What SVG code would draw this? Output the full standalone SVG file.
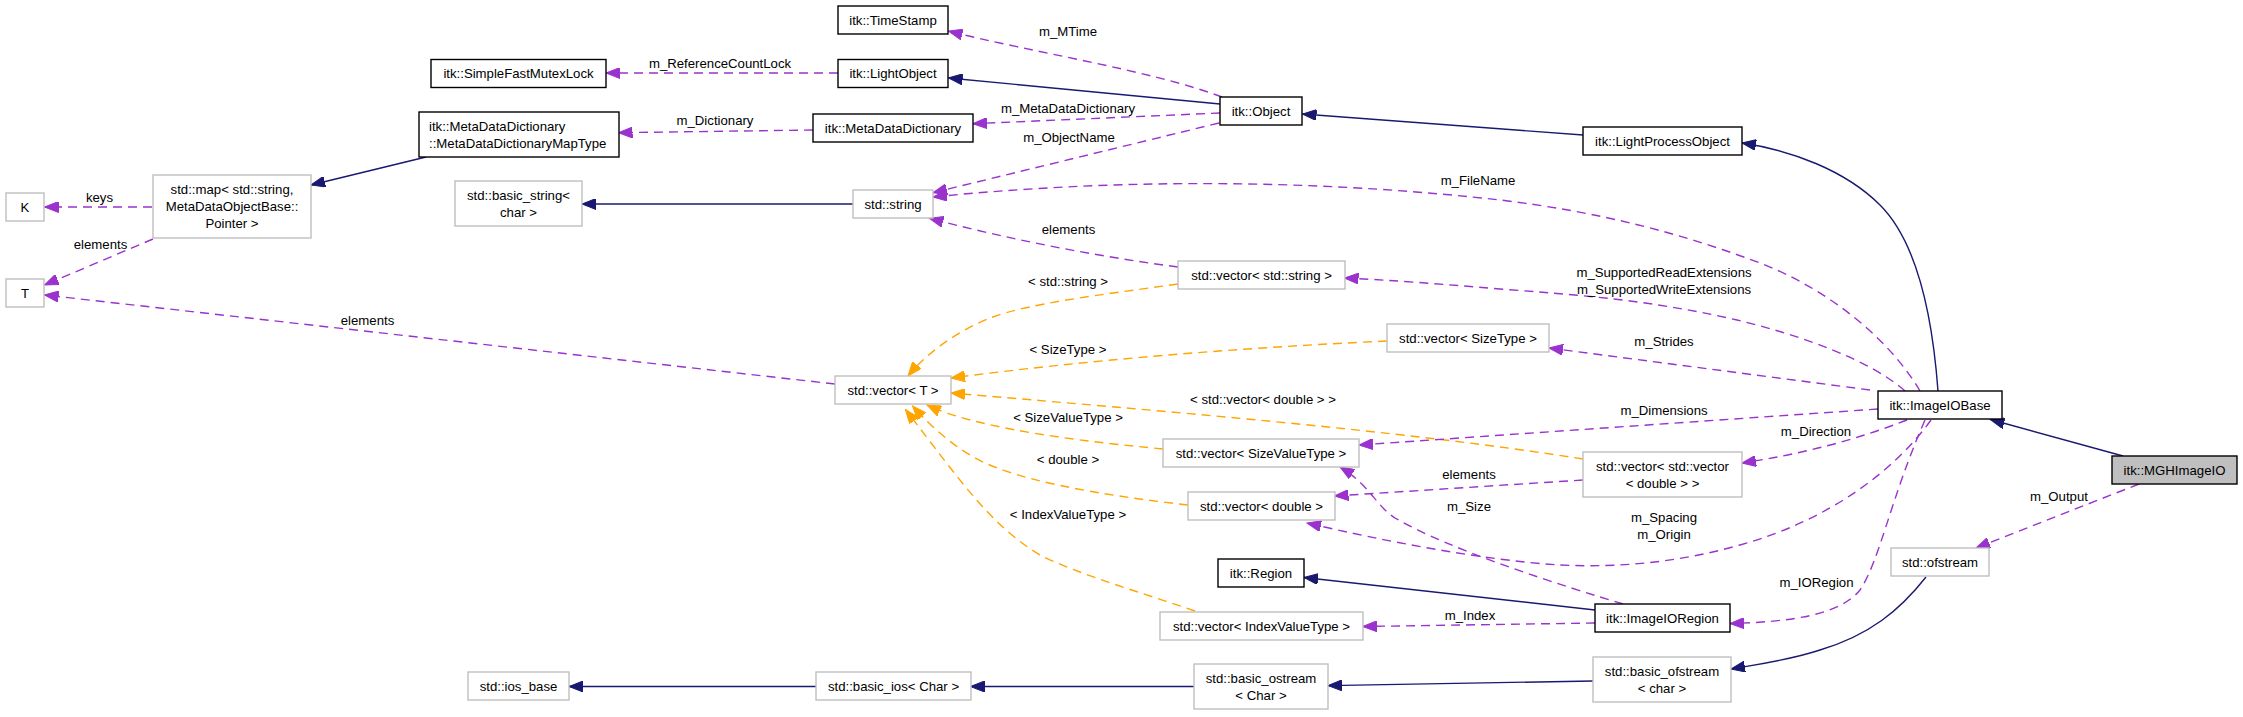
<svg xmlns="http://www.w3.org/2000/svg" width="2243" height="717" viewBox="0 0 2243 717">
<style>
text{font-family:"Liberation Sans",Arial,sans-serif;font-size:13.2px;fill:#000}
.c{text-anchor:middle}
.nb rect{fill:#fff;stroke:#000;stroke-width:1.4}
.ng rect{fill:#fff;stroke:#bfbfbf;stroke-width:1.4}
.nh rect{fill:#bfbfbf;stroke:#000;stroke-width:1.4}
.e{fill:none;stroke-width:1.4}
.inh{stroke:#191970;marker-end:url(#ab)}
.use{stroke:#9a32cd;stroke-dasharray:9,6;marker-end:url(#ap)}
.tpl{stroke:#ffa500;stroke-dasharray:9,6;marker-end:url(#ao)}
</style>
<defs>
<marker id="ab" markerUnits="userSpaceOnUse" markerWidth="15" markerHeight="11" refX="14" refY="5.5" orient="auto"><path d="M0,0 L14,5.5 L0,11 z" fill="#191970" stroke="#191970"/></marker>
<marker id="ap" markerUnits="userSpaceOnUse" markerWidth="15" markerHeight="11" refX="14" refY="5.5" orient="auto"><path d="M0,0 L14,5.5 L0,11 z" fill="#9a32cd" stroke="#9a32cd"/></marker>
<marker id="ao" markerUnits="userSpaceOnUse" markerWidth="15" markerHeight="11" refX="14" refY="5.5" orient="auto"><path d="M0,0 L14,5.5 L0,11 z" fill="#ffa500" stroke="#ffa500"/></marker>
</defs>
<rect width="2243" height="717" fill="#fff"/>
<g id="edges">
<path class="e use" d="M1222,97 C1150,70 1030,52 948.5,31"/>
<path class="e inh" d="M1220,104 L948.5,78"/>
<path class="e use" d="M838,73 L606,73"/>
<path class="e use" d="M1220,113 L973,123.7"/>
<path class="e use" d="M813,130 L618.5,132.7"/>
<path class="e inh" d="M426,157 L311,185"/>
<path class="e use" d="M152,207 L44.5,207"/>
<path class="e use" d="M153,239 L44.5,285"/>
<path class="e use" d="M835,384 L44.5,295"/>
<path class="e use" d="M1219,123 L933,192.7"/>
<path class="e inh" d="M853,204 L582,204"/>
<path class="e use" d="M1920,391 C1890,340 1830,290 1760,263 C1680,233 1600,212 1500,200 C1350,183 1150,175 933,197"/>
<path class="e use" d="M1178,267 Q1050,250 929.4,218.3"/>
<path class="e use" d="M1905,391 C1870,360 1800,335 1737,320 C1650,300 1580,295 1500,289 C1440,284 1390,280 1344.5,278"/>
<path class="e use" d="M1870,390 L1549,348"/>
<path class="e tpl" d="M1178,284 C1100,295 1030,303 990,318 C955,332 925,355 908,376"/>
<path class="e tpl" d="M1387,341 Q1150,352 951,378"/>
<path class="e tpl" d="M1583,459 C1400,430 1150,410 951,393"/>
<path class="e tpl" d="M1163,449 C1090,442 980,430 927,405"/>
<path class="e tpl" d="M1188,505 C1100,495 1010,480 970,455 C945,440 925,420 912.6,406"/>
<path class="e tpl" d="M1195,611 C1140,592 1080,575 1040,555 C990,525 960,480 905.5,409.6"/>
<path class="e use" d="M1878,409 L1359,445"/>
<path class="e use" d="M1907,420 Q1830,450 1742,463"/>
<path class="e use" d="M1583,480 L1334.5,496"/>
<path class="e use" d="M1931,420 C1895,470 1830,520 1740,545 C1680,562 1620,568 1560,565 C1480,560 1380,540 1307,523"/>
<path class="e use" d="M1623,604 C1560,585 1450,550 1395,518 C1375,505 1370,485 1340,467"/>
<path class="e inh" d="M1595,610 L1304,577.5"/>
<path class="e use" d="M1595,623 L1363,626.5"/>
<path class="e use" d="M1925,420 C1890,500 1880,560 1860,590 C1840,615 1790,622 1730,623.5"/>
<path class="e inh" d="M2123,456 L1990.5,419.5"/>
<path class="e use" d="M2139,484 L1976,548"/>
<path class="e inh" d="M1926,577 C1900,610 1870,635 1820,650 C1790,660 1760,664 1731,669"/>
<path class="e inh" d="M1593,681 L1328,685.6"/>
<path class="e inh" d="M1194,686.5 L970.5,686.5"/>
<path class="e inh" d="M816,686.5 L569,686.5"/>
<path class="e inh" d="M1583,135 L1302.5,114"/>
<path class="e inh" d="M1938,391 C1932,310 1915,240 1880,205 C1845,170 1790,150 1742,143"/>
<text class="c" x="1068" y="35.6">m_MTime</text>
<text class="c" x="720" y="67.6">m_ReferenceCountLock</text>
<text class="c" x="1068" y="112.6">m_MetaDataDictionary</text>
<text class="c" x="715" y="124.6">m_Dictionary</text>
<text class="c" x="1069" y="141.6">m_ObjectName</text>
<text class="c" x="1478" y="184.6">m_FileName</text>
<text class="c" x="99.5" y="201.6">keys</text>
<text class="c" x="100.5" y="248.6">elements</text>
<text class="c" x="1068.5" y="233.6">elements</text>
<text class="c" x="1664" y="276.6">m_SupportedReadExtensions</text>
<text class="c" x="1664" y="293.6">m_SupportedWriteExtensions</text>
<text class="c" x="1068" y="285.6">&lt; std::string &gt;</text>
<text class="c" x="367.5" y="324.6">elements</text>
<text class="c" x="1664" y="345.6">m_Strides</text>
<text class="c" x="1068" y="353.6">&lt; SizeType &gt;</text>
<text class="c" x="1263" y="403.6">&lt; std::vector&lt; double &gt; &gt;</text>
<text class="c" x="1664" y="414.6">m_Dimensions</text>
<text class="c" x="1068" y="421.6">&lt; SizeValueType &gt;</text>
<text class="c" x="1816" y="435.6">m_Direction</text>
<text class="c" x="1068" y="463.6">&lt; double &gt;</text>
<text class="c" x="1469" y="478.6">elements</text>
<text class="c" x="2059" y="500.6">m_Output</text>
<text class="c" x="1469" y="511.2">m_Size</text>
<text class="c" x="1068" y="519.2">&lt; IndexValueType &gt;</text>
<text class="c" x="1664" y="521.6">m_Spacing</text>
<text class="c" x="1664" y="538.6">m_Origin</text>
<text class="c" x="1816.5" y="586.6">m_IORegion</text>
<text class="c" x="1470" y="619.6">m_Index</text>
</g>
<g id="n_TimeStamp" class="nb"><rect x="838" y="6" width="110" height="28"/><text class="c" x="893" y="24.6">itk::TimeStamp</text></g>
<g id="n_LightObject" class="nb"><rect x="838" y="59.5" width="110" height="28"/><text class="c" x="893" y="78.1">itk::LightObject</text></g>
<g id="n_SimpleFastMutexLock" class="nb"><rect x="431" y="59.5" width="175" height="28"/><text class="c" x="518.5" y="78.1">itk::SimpleFastMutexLock</text></g>
<g id="n_MetaDataDictionary" class="nb"><rect x="813" y="114" width="160" height="28"/><text class="c" x="893" y="132.6">itk::MetaDataDictionary</text></g>
<g id="n_MapType" class="nb"><rect x="419" y="112" width="200" height="45"/><text x="429" y="130.6">itk::MetaDataDictionary</text><text x="429" y="147.6">::MetaDataDictionaryMapType</text></g>
<g id="n_Object" class="nb"><rect x="1220" y="97" width="82" height="28"/><text class="c" x="1261" y="115.6">itk::Object</text></g>
<g id="n_LightProcessObject" class="nb"><rect x="1583" y="127" width="159" height="28"/><text class="c" x="1662.5" y="145.6">itk::LightProcessObject</text></g>
<g id="n_map" class="ng"><rect x="153" y="175" width="158" height="63"/><text class="c" x="232" y="193.6">std::map&lt; std::string,</text><text class="c" x="232" y="210.6">MetaDataObjectBase::</text><text class="c" x="232" y="227.6">Pointer &gt;</text></g>
<g id="n_K" class="ng"><rect x="6" y="193" width="38" height="28"/><text class="c" x="25" y="211.6">K</text></g>
<g id="n_T" class="ng"><rect x="6" y="279" width="38" height="28"/><text class="c" x="25" y="297.6">T</text></g>
<g id="n_basic_string" class="ng"><rect x="455" y="181" width="127" height="45"/><text class="c" x="518.5" y="199.6">std::basic_string&lt;</text><text class="c" x="518.5" y="216.6">char &gt;</text></g>
<g id="n_string" class="ng"><rect x="853" y="190" width="80" height="28"/><text class="c" x="893" y="208.6">std::string</text></g>
<g id="n_vector_string" class="ng"><rect x="1178" y="261" width="167" height="28"/><text class="c" x="1261.5" y="279.6">std::vector&lt; std::string &gt;</text></g>
<g id="n_vector_SizeType" class="ng"><rect x="1387" y="324" width="162" height="28"/><text class="c" x="1468" y="342.6">std::vector&lt; SizeType &gt;</text></g>
<g id="n_vector_T" class="ng"><rect x="835" y="376" width="116" height="28"/><text class="c" x="893" y="394.6">std::vector&lt; T &gt;</text></g>
<g id="n_ImageIOBase" class="nb"><rect x="1878" y="391" width="124" height="28"/><text class="c" x="1940" y="409.6">itk::ImageIOBase</text></g>
<g id="n_vector_SizeValueType" class="ng"><rect x="1163" y="439" width="196" height="28"/><text class="c" x="1261" y="457.6">std::vector&lt; SizeValueType &gt;</text></g>
<g id="n_vector_vector_double" class="ng"><rect x="1583" y="452" width="159" height="45"/><text class="c" x="1662.5" y="470.6">std::vector&lt; std::vector</text><text class="c" x="1662.5" y="487.6">&lt; double &gt; &gt;</text></g>
<g id="n_MGHImageIO" class="nh"><rect x="2112" y="456" width="125" height="28"/><text class="c" x="2174.5" y="474.6">itk::MGHImageIO</text></g>
<g id="n_vector_double" class="ng"><rect x="1188" y="492" width="147" height="28"/><text class="c" x="1261.5" y="510.6">std::vector&lt; double &gt;</text></g>
<g id="n_ofstream" class="ng"><rect x="1891" y="548" width="98" height="28"/><text class="c" x="1940" y="566.6">std::ofstream</text></g>
<g id="n_Region" class="nb"><rect x="1218" y="559" width="86" height="28"/><text class="c" x="1261" y="577.6">itk::Region</text></g>
<g id="n_ImageIORegion" class="nb"><rect x="1595" y="604" width="135" height="28"/><text class="c" x="1662.5" y="622.6">itk::ImageIORegion</text></g>
<g id="n_vector_IndexValueType" class="ng"><rect x="1160" y="612" width="203" height="28"/><text class="c" x="1261.5" y="630.6">std::vector&lt; IndexValueType &gt;</text></g>
<g id="n_basic_ofstream" class="ng"><rect x="1593" y="657" width="138" height="45"/><text class="c" x="1662" y="675.6">std::basic_ofstream</text><text class="c" x="1662" y="692.6">&lt; char &gt;</text></g>
<g id="n_basic_ostream" class="ng"><rect x="1194" y="664" width="134" height="45"/><text class="c" x="1261" y="682.6">std::basic_ostream</text><text class="c" x="1261" y="699.6">&lt; Char &gt;</text></g>
<g id="n_basic_ios" class="ng"><rect x="816" y="672" width="155" height="28"/><text class="c" x="893.5" y="690.6">std::basic_ios&lt; Char &gt;</text></g>
<g id="n_ios_base" class="ng"><rect x="468" y="672" width="101" height="28"/><text class="c" x="518.5" y="690.6">std::ios_base</text></g>
</svg>
